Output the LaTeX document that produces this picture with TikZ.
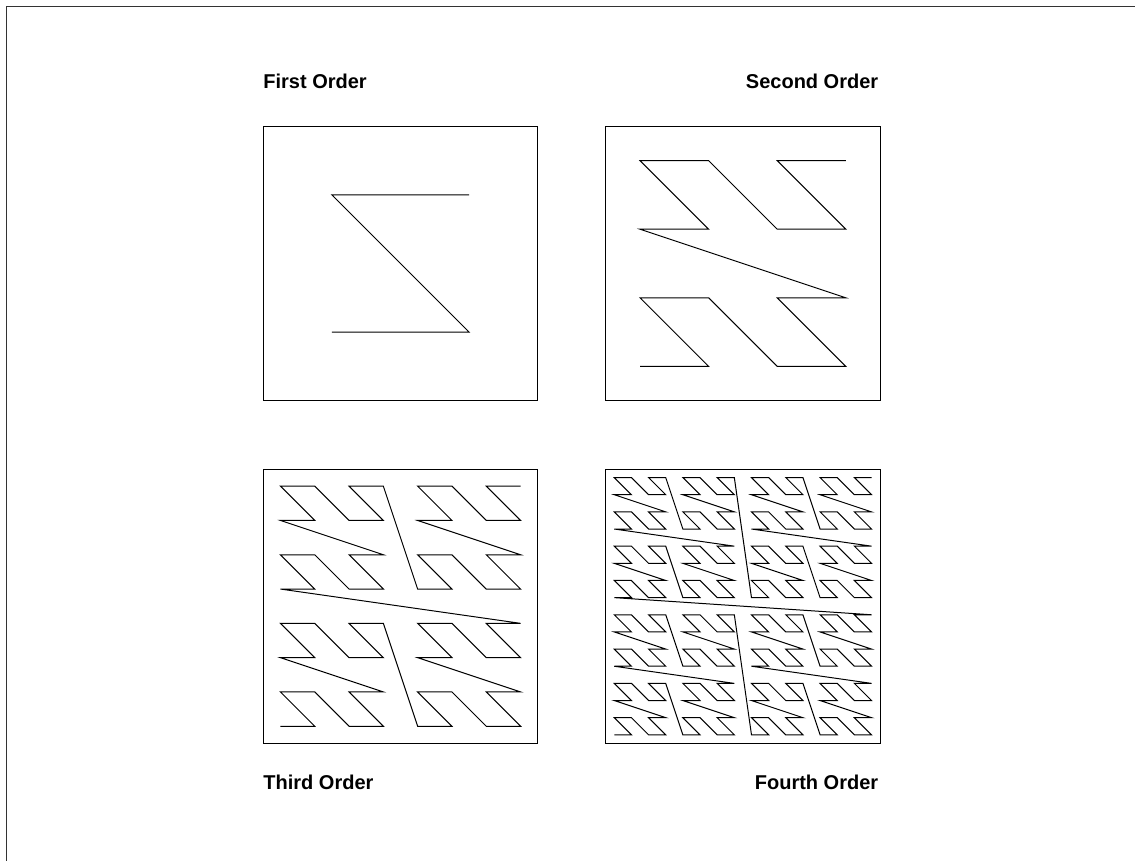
\documentclass[tikz,border=0pt]{standalone}
\usepackage{fontspec}
\setmainfont{Liberation Sans}

\begin{document}
\begin{tikzpicture}[
    x=0.5pt, y=-0.5pt,
    frame/.style={line width=0.75pt, black!80},
    panel/.style={line width=0.5pt},
    curve/.style={line width=0.5pt, line join=miter},
    title/.style={font=\bfseries\fontsize{10}{12}\selectfont, inner sep=0pt}]
  \useasboundingbox (0,0) rectangle (1135,861);
  % page frame, cut off at the right and bottom
  \coordinate (fnw) at (6.5,6.5);
  \coordinate (fsw) at (6.5,861);
  \coordinate (fne) at (1135,6.5);
  \draw[frame] (fsw) -- (fnw) -- (fne);
  % one panel per order: box, curve and title
  \foreach \n/\xo/\yo/\lab/\anc/\lx/\ly in {
      1/263.3/126.3/First Order/base west/263/89,
      2/605.7/126.3/Second Order/base east/878.6/89,
      3/263.3/469/Third Order/base west/263/789,
      4/605.7/469/Fourth Order/base east/878.6/789} {
    \pgfmathtruncatemacro\N{2^\n}
    \pgfmathtruncatemacro\last{\N*\N-1}
    \pgfmathsetmacro\c{274.4/\N}
    \draw[panel] (\xo,\yo) rectangle ++(274.4,274.4);
    \draw[curve] plot[variable=\k, samples at={0,...,\last}]
      ({\xo + (\N-0.5 - (mod(\k,2) + 2*mod(floor(\k/4),2) + 4*mod(floor(\k/16),2) + 8*mod(floor(\k/64),2)))*\c},
       {\yo + (0.5 + mod(floor(\k/2),2) + 2*mod(floor(\k/8),2) + 4*mod(floor(\k/32),2) + 8*mod(floor(\k/128),2))*\c});
    \node[title, anchor=\anc] (lab\n) at (\lx,\ly) {\lab};
  }
\end{tikzpicture}
\end{document}
